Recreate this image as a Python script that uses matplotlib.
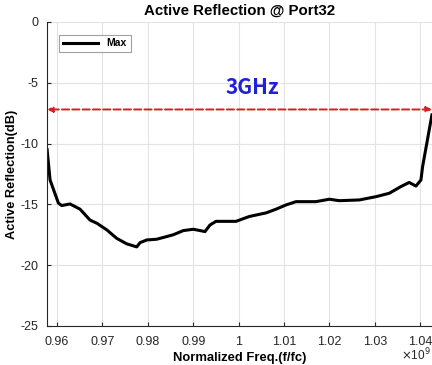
import matplotlib.pyplot as plt
from matplotlib.ticker import FuncFormatter

# Active reflection (max over ports)
freq = [0.95780, 0.95846, 0.96029, 0.96103, 0.96286, 0.96507, 0.96727, 0.96874,
        0.97095, 0.97315, 0.97535, 0.97755, 0.97828, 0.97975, 0.98195, 0.98416,
        0.98561, 0.98781, 0.99002, 0.99259, 0.99369, 0.99501, 0.99942, 1.00235,
        1.00609, 1.00823, 1.01044, 1.01264, 1.01704, 1.01998, 1.02218, 1.02659,
        1.03026, 1.03319, 1.03575, 1.03758, 1.03906, 1.04016, 1.04053, 1.04258]
refl = [-10.5, -13.0, -14.9, -15.1, -14.97, -15.4, -16.3, -16.55,
        -17.1, -17.8, -18.25, -18.5, -18.15, -17.93, -17.87, -17.65,
        -17.5, -17.16, -17.05, -17.24, -16.7, -16.4, -16.4, -16.0,
        -15.7, -15.4, -15.05, -14.78, -14.78, -14.58, -14.7, -14.64,
        -14.37, -14.09, -13.54, -13.2, -13.5, -13.0, -11.9, -7.65]

xticks = [0.96, 0.97, 0.98, 0.99, 1.00, 1.01, 1.02, 1.03, 1.04]
yticks = [0, -5, -10, -15, -20, -25]
band_y = -7.2
band_label = "3GHz"

plt.rcParams['font.family'] = ['Liberation Sans', 'DejaVu Sans']
plt.rcParams['axes.unicode_minus'] = False
dark = "#262626"

fig = plt.figure(figsize=(4.32, 3.65), dpi=100)
ax = fig.add_axes([0.109, 0.107, 0.891, 0.833])

ax.plot(freq, refl, color="black", linewidth=2.2, label="Max")

ax.set_xlim(0.9578, 1.0426)
ax.set_ylim(-25, 0)
ax.set_xticks(xticks)
ax.set_yticks(yticks)
ax.xaxis.set_major_formatter(FuncFormatter(lambda v, p: f"{v:g}"))
ax.tick_params(direction="in", colors=dark, labelsize=9, length=3, width=0.8)
ax.tick_params(axis="x", pad=7)
ax.tick_params(axis="y", pad=6)
ax.grid(True, color="#e3e3e3", linewidth=0.8)
ax.set_axisbelow(True)

for side in ["top", "right"]:
    ax.spines[side].set_visible(False)
for side in ["left", "bottom"]:
    ax.spines[side].set_color(dark)
    ax.spines[side].set_linewidth(0.8)

# 3GHz band arrow
ax.annotate("", xy=(0.9578, band_y), xytext=(1.0426, band_y),
            arrowprops=dict(arrowstyle="<|-|>", color="#d42020", linestyle="--",
                            linewidth=1.4, mutation_scale=8, shrinkA=0, shrinkB=0))
ax.text(1.0030, -5.4, band_label, color="#2020d8", fontsize=15, fontweight="bold",
        ha="center", va="center", family=['Noto Sans CJK KR', 'DejaVu Sans'])

ax.set_title("Active Reflection @ Port32", fontsize=10.8, fontweight="bold", pad=5)
ax.set_xlabel("Normalized Freq.(f/fc)", fontsize=9.4, fontweight="bold", labelpad=3)
ax.set_ylabel("Active Reflection(dB)", fontsize=9.2, fontweight="bold", labelpad=2)
fig.text(0.962, 0.012, r"$\times$10$^9$", fontsize=8.5, color=dark, ha="center")

leg = ax.legend(loc="upper left", prop={"weight": "bold", "size": 7.5},
                handlelength=3.4, fancybox=False, borderpad=0.35,
                bbox_to_anchor=(0.018, 0.975))
leg.get_frame().set_edgecolor("#8a8a8a")
leg.get_frame().set_linewidth(0.8)

fig.savefig("out.png", dpi=100)
